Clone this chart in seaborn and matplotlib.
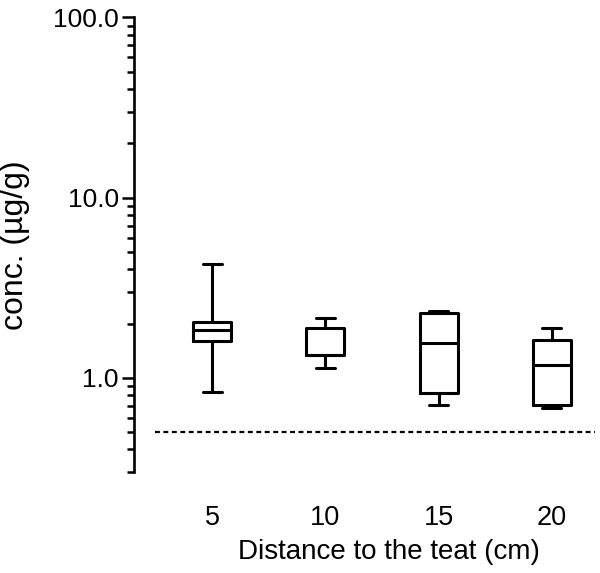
import pandas as pd
import matplotlib
matplotlib.use('Agg')
import matplotlib.pyplot as plt
import matplotlib.ticker as mticker
import seaborn as sns

# five-number summaries (min, q1, median, q3, max)
distances = ['5', '10', '15', '20']
d5 = [0.83, 1.60, 1.84, 2.03, 4.26]
d10 = [1.13, 1.34, 1.34, 1.88, 2.16]
d15 = [0.705, 0.82, 1.56, 2.30, 2.36]
d20 = [0.68, 0.705, 1.18, 1.62, 1.88]
detection_limit = 0.5
y_ticks = [1.0, 10.0, 100.0]

rows = []
for name, vals in zip(distances, [d5, d10, d15, d20]):
    for v in vals:
        rows.append({'distance': name, 'conc': v})
conc_data = pd.DataFrame(rows)

sns.set_style('ticks')
plt.rcParams['font.family'] = ['Liberation Sans', 'DejaVu Sans']
plt.rcParams['text.color'] = 'black'
plt.rcParams['axes.labelcolor'] = 'black'
plt.rcParams['xtick.color'] = 'black'
plt.rcParams['ytick.color'] = 'black'
plt.rcParams['axes.edgecolor'] = 'black'

fig = plt.figure(figsize=(6.0, 5.73), dpi=100)
ax = fig.add_axes([0.2233, 0.1763, 0.7683, 0.7932])
ax.set_yscale('log')

sns.boxplot(data=conc_data, x='distance', y='conc', order=distances,
            whis=(0, 100), fill=False, color='black', linecolor='black',
            linewidth=2.2, width=0.335, ax=ax)

ax.axhline(detection_limit, xmin=0.045, xmax=1.0, color='black',
           linewidth=1.6, linestyle=(0, (2.2, 1.6)))

ax.set_ylim(0.3, 100)
ax.set_xlim(-0.69, 3.38)
ax.yaxis.set_major_locator(mticker.FixedLocator(y_ticks))
ax.yaxis.set_major_formatter(mticker.FixedFormatter(['%.1f' % t for t in y_ticks]))
ax.yaxis.set_minor_locator(mticker.LogLocator(base=10, subs=range(2, 10), numticks=20))
ax.yaxis.set_minor_formatter(mticker.NullFormatter())

ax.tick_params(axis='y', which='major', length=9, width=1.8, labelsize=19, pad=2)
ax.tick_params(axis='y', which='minor', length=5, width=1.8)
ax.tick_params(axis='x', length=0, labelsize=19.5, pad=23.5)

ax.spines['left'].set_linewidth(1.9)
sns.despine(ax=ax, bottom=True)

ax.set_xlabel('Distance to the teat (cm)', fontsize=20)
ax.set_ylabel('conc. (µg/g)', fontsize=23)
ax.xaxis.set_label_coords((389 - 134) / 461, -(552 - 472) / 454.5)
ax.yaxis.set_label_coords(-(134 - 15) / 461, 0.5)
ax.xaxis.label.set_va('center')
ax.yaxis.label.set_va('center')

fig.savefig('out.png', dpi=100)
plt.close(fig)
